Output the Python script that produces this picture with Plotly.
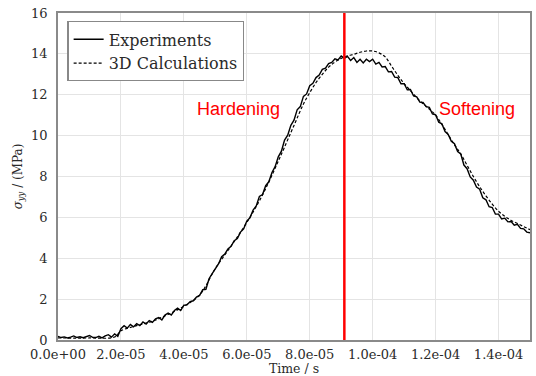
import plotly.graph_objects as go

# Sample times in microseconds (1 us spacing for the measured signal)
time_exp_us = list(range(0, 151))
sigma_exp = [
    0.18, 0.12, 0.15, 0.10, 0.14, 0.20, 0.12, 0.16, 0.11, 0.15,      # 0-9
    0.22, 0.13, 0.12, 0.18, 0.10, 0.20, 0.26, 0.14, 0.30, 0.18,      # 10-19
    0.55, 0.70, 0.58, 0.76, 0.64, 0.80, 0.70, 0.88, 0.78, 0.95,      # 20-29
    0.86, 1.04, 1.10, 0.98, 1.22, 1.32, 1.22, 1.44, 1.56, 1.44,      # 30-39
    1.70, 1.72, 1.88, 1.92, 2.10, 2.18, 2.46, 2.48, 3.00, 3.25,      # 40-49
    3.50, 3.72, 4.08, 4.20, 4.46, 4.58, 4.86, 4.96, 5.28, 5.44,      # 50-59
    5.82, 5.98, 6.36, 6.56, 7.02, 7.12, 7.55, 7.74, 8.20, 8.48,      # 60-69
    8.96, 9.24, 9.78, 10.02, 10.50, 10.76, 11.26, 11.42, 11.92, 12.04,  # 70-79
    12.44, 12.56, 12.84, 12.96, 13.24, 13.30, 13.52, 13.58, 13.76, 13.70,  # 80-89
    13.90, 13.78, 13.88, 13.68, 13.82, 13.58, 13.74, 13.56, 13.74, 13.62,  # 90-99
    13.74, 13.50, 13.58, 13.36, 13.38, 13.12, 13.14, 12.86, 12.84, 12.54,  # 100-109
    12.54, 12.24, 12.26, 11.94, 11.90, 11.64, 11.62, 11.42, 11.38, 11.06,  # 110-119
    11.02, 10.66, 10.58, 10.20, 10.06, 9.72, 9.60, 9.22, 9.10, 8.56,     # 120-129
    8.38, 7.98, 7.82, 7.48, 7.38, 6.96, 6.86, 6.52, 6.48, 6.16,          # 130-139
    6.16, 5.92, 5.96, 5.78, 5.80, 5.62, 5.66, 5.46, 5.44, 5.28,          # 140-149
    5.25,                                                               # 150
]

# 3D simulation output
time_calc_us = [0, 10, 18, 20, 25, 30, 35, 40, 45, 50, 55, 60, 65, 70, 75, 78,
                80, 82, 84, 86, 88, 90, 92, 94, 96, 98, 100, 102, 104, 106,
                108, 110, 112, 115, 118, 120, 122, 124, 126, 128, 130, 132,
                134, 136, 138, 140, 142, 144, 146, 148, 150]
sigma_calc = [0.10, 0.10, 0.15, 0.45, 0.70, 0.92, 1.25, 1.65, 2.20, 3.50, 4.60,
              5.75, 7.10, 8.75, 10.50, 11.55, 12.10, 12.60, 13.00, 13.35, 13.60,
              13.78, 13.90, 13.98, 14.08, 14.14, 14.14, 14.05, 13.85, 13.40,
              12.95, 12.55, 12.20, 11.70, 11.30, 11.00, 10.55, 10.05, 9.55,
              9.10, 8.55, 8.00, 7.50, 7.05, 6.65, 6.30, 6.05, 5.85, 5.70,
              5.55, 5.40]

# Hardening / softening transition
transition_s = 9.1e-05

x_tick_vals = [0.0, 2e-05, 4e-05, 6e-05, 8e-05, 1e-04, 1.2e-04, 1.4e-04]
x_tick_text = ["0.0e+00", "2.0e-05", "4.0e-05", "6.0e-05", "8.0e-05",
               "1.0e-04", "1.2e-04", "1.4e-04"]
y_tick_vals = [0, 2, 4, 6, 8, 10, 12, 14, 16]

time_exp_s = [t * 1e-6 for t in time_exp_us]
time_calc_s = [t * 1e-6 for t in time_calc_us]

serif = "DejaVu Serif"
text_col = "#2a2a2a"

fig = go.Figure()
fig.add_trace(go.Scatter(
    x=time_exp_s, y=sigma_exp, mode="lines", name="Experiments",
    line=dict(color="black", width=1.4),
))
fig.add_trace(go.Scatter(
    x=time_calc_s, y=sigma_calc, mode="lines", name="3D Calculations",
    line=dict(color="black", width=1.2, dash="3px,2px"), line_shape="spline",
))

fig.add_shape(type="line", xref="x", yref="paper", x0=transition_s, x1=transition_s,
              y0=0, y1=1, line=dict(color="#ff0000", width=2.5))

fig.add_annotation(x=5.75e-05, y=11.3, xref="x", yref="y", text="Hardening",
                   showarrow=False, font=dict(family="Liberation Sans", size=18, color="#ff0000"))
fig.add_annotation(x=1.33e-04, y=11.3, xref="x", yref="y", text="Softening",
                   showarrow=False, font=dict(family="Liberation Sans", size=18, color="#ff0000"))

axis_common = dict(
    showgrid=True, gridcolor="#e4e4e4", gridwidth=1,
    showline=True, linecolor="#8a8a8a", linewidth=1.5, mirror=True,
    zeroline=False, ticks="",
    tickfont=dict(family=serif, size=13, color=text_col),
)

fig.update_layout(
    width=536, height=376,
    margin=dict(l=58, r=4, t=13, b=36),
    paper_bgcolor="white", plot_bgcolor="white",
    xaxis=dict(range=[0, 1.5e-04], tickvals=x_tick_vals, ticktext=x_tick_text,
               ticklabelstandoff=2,
               title=dict(text="Time / s", standoff=0,
                          font=dict(family=serif, size=12.5, color=text_col)),
               **axis_common),
    yaxis=dict(range=[0, 16], tickvals=y_tick_vals, ticklabelstandoff=6,
               title=dict(text="<i>σ</i><sub><i>yy</i></sub> / (MPa)", standoff=6,
                          font=dict(family=serif, size=12, color=text_col)),
               **axis_common),
    legend=dict(x=0.02, y=0.975, xanchor="left", yanchor="top",
                bgcolor="white", bordercolor="#888888", borderwidth=1.2,
                font=dict(family=serif, size=16, color=text_col),
                tracegroupgap=0, itemwidth=30),
    showlegend=True,
)

fig.write_html("out.html")
